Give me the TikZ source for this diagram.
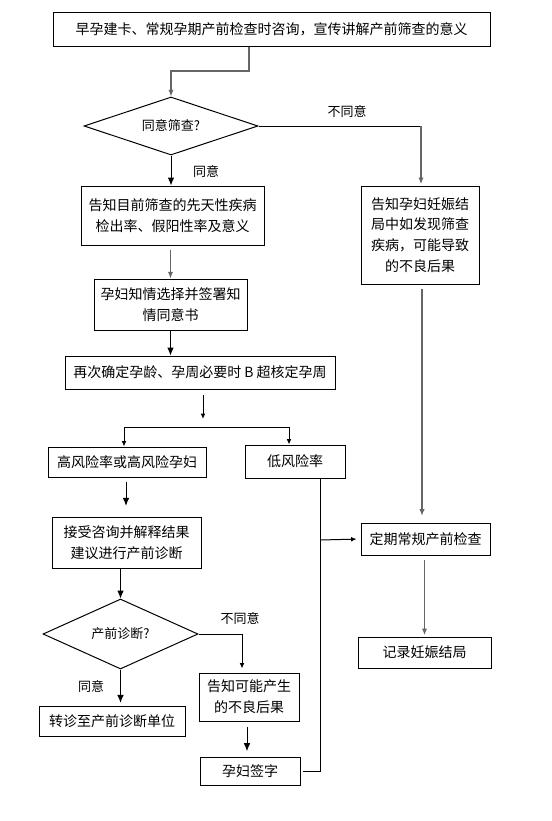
\documentclass[tikz,border=0pt]{standalone}
\usepackage{fontspec}
\setmainfont{Noto Sans CJK SC}
\usetikzlibrary{shapes.geometric,arrows.meta,calc}
\begin{document}
\begin{tikzpicture}[x=0.75pt,y=-0.75pt,
  bx/.style 2 args={draw, line width=0.75pt, inner sep=0pt, align=center,
    minimum width=#1*0.75pt, minimum height=#2*0.75pt,
    font=\fontsize{10.5}{15.5}\selectfont},
  dm/.style 2 args={draw, diamond, line width=0.75pt, inner sep=0pt, aspect=2.5,
    minimum width=#1*0.75pt, minimum height=#2*0.75pt,
    font=\fontsize{9.75}{12}\selectfont},
  lbl/.style={font=\fontsize{9.75}{12}\selectfont, inner sep=0pt},
  ln/.style={line width=0.75pt, draw=black},
  gl/.style={line width=0.9pt, draw=black!60},
  arr/.style={ln, -{Latex[length=6pt, width=5pt]}},
  sarr/.style={ln, -{Latex[length=4pt, width=3.5pt]}},
  garr/.style={gl, -{Latex[length=5pt, width=4pt]}},
  ]
\useasboundingbox (0,0) rectangle (552,821);

% nodes
\node[bx={437}{34}] (top) at (271.5,29) {早孕建卡、常规孕期产前检查时咨询，宣传讲解产前筛查的意义};
\node[dm={174}{58}] (d1) at (171,126) {同意筛查?};
\node[bx={183}{59}] (b2) at (172.5,215.5) {告知目前筛查的先天性疾病\\检出率、假阳性率及意义};
\node[bx={118}{98}] (r1) at (420,235) {告知孕妇妊娠结\\局中如发现筛查\\疾病，可能导致\\的不良后果};
\node[bx={153}{51}] (b3) at (170.5,304.5) {孕妇知情选择并签署知\\情同意书};
\node[bx={270}{33}] (b4) at (200,372.5) {再次确定孕龄、孕周必要时 B 超核定孕周};
\node[bx={158}{30}] (hi) at (127,462) {高风险率或高风险孕妇};
\node[bx={100}{33}] (lo) at (295,461.5) {低风险率};
\node[bx={129}{32}] (reg) at (425.5,539) {定期常规产前检查};
\node[bx={149}{51}] (cons) at (126.5,542.5) {接受咨询并解释结果\\建议进行产前诊断};
\node[dm={155}{70}] (d2) at (120.5,634) {产前诊断?};
\node[bx={133}{31}] (rec) at (424.5,652.5) {记录妊娠结局};
\node[bx={100}{48}] (tell) at (249,697) {告知可能产生\\的不良后果};
\node[bx={146}{30}] (ref) at (112,721) {转诊至产前诊断单位};
\node[bx={100}{28}] (sign) at (250,771) {孕妇签字};

% labels
\node[lbl] (l1) at (347,112) {不同意};
\node[lbl] (l2) at (206,172) {同意};
\node[lbl] (l3) at (240,619) {不同意};
\node[lbl] (l4) at (91,687) {同意};

% helper coordinates
\coordinate (c1) at (249,71);
\coordinate (c2) at (421,126);
\coordinate (f) at (203,427);
\coordinate (fl) at (124,427);
\coordinate (fr) at (289,427);
\coordinate (lx) at (320,540);
\coordinate (t) at (242,634);

% connectors
\draw[garr] (c1 |- top.south) -- (c1) -| (d1.north);
\draw[ln] (d1.east) -- (c2);
\draw[garr, shorten >=1pt] (c2) -- (c2 |- r1.north);
\draw[arr] (d1.south) -- (d1.south |- b2.north);
\draw[garr, shorten <=3pt] (b3.north |- b2.south) -- (b3.north);
\draw[arr] (b3.south) -- (b3.south |- b4.north);
\draw[sarr, shorten <=4pt, shorten >=6pt] (b4.south -| f) -- (f);
\draw[ln] (fl) -- (fr);
\draw[sarr] (fl) -- (fl |- hi.north);
\draw[sarr] (fr) -- (fr |- lo.north);
\draw[arr, shorten <=3pt, shorten >=8pt] ([xshift=-0.75pt]hi.south) -- ([xshift=-0.75pt]hi.south |- cons.north);
\draw[ln, shorten >=2pt] (lx |- lo.south) -- (lx |- sign.east) -- (sign.east);
\draw[sarr, shorten >=3pt] (lx) -- (reg.west);
\draw[garr, shorten <=3pt, shorten >=5pt] ([xshift=1.5pt]r1.south) -- ([xshift=1.5pt]r1.south |- reg.north);
\draw[garr, shorten <=3pt, shorten >=1pt] (reg.south -| rec.north) -- (rec.north);
\draw[arr] (d2.north |- cons.south) -- (d2.north);
\draw[sarr, shorten >=3pt] (d2.east) -- (t) -- (t |- tell.north);
\draw[arr, shorten >=2pt] (d2.south) -- (d2.south |- ref.north);
\draw[arr, shorten <=4pt, shorten >=4pt] ([xshift=-1.5pt]tell.south) -- ([xshift=-1.5pt]tell.south |- sign.north);
\end{tikzpicture}
\end{document}
